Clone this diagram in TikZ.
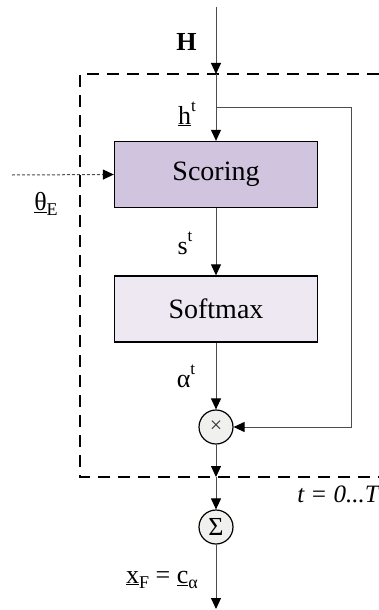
\documentclass[tikz,border=0pt]{standalone}
\usepackage{fontspec}
\setmainfont{Liberation Serif}
\usetikzlibrary{arrows.meta}

% small raised / lowered indices for the signal labels
\newcommand\supidx[1]{\raisebox{0.5em}{\fontsize{17}{17}\selectfont #1}}
\newcommand\subidx[1]{\raisebox{-0.22em}{\fontsize{18}{18}\selectfont #1}}

\definecolor{scorefill}{HTML}{D1C4DE}
\definecolor{softfill}{HTML}{EEE8F3}
\definecolor{opgray}{HTML}{F0F1EF}

\begin{document}
\begin{tikzpicture}[x=1pt,y=-1pt,
  conn/.style={draw=black!70, line width=1pt,
               -{Triangle[length=11pt,width=10pt,color=black,fill=black]}},
  box/.style={draw=black, line width=1.3pt, minimum width=203pt, minimum height=66pt,
              inner sep=0pt, font=\fontsize{28}{30}\selectfont},
  op/.style={circle, draw=black, line width=1.2pt, fill=opgray, minimum size=34pt, inner sep=0pt},
  lbl/.style={font=\fontsize{26}{28}\selectfont, inner sep=0pt},
  frame/.style={dash pattern=on 12pt off 8pt, line width=1.5pt}
]
\useasboundingbox (0,0) rectangle (379,610);

% iteration frame t = 0...T (open on the right)
\draw[frame] (379,74) -- (80,74) -- (80,477) -- (379,477);
\node[lbl, font=\fontsize{25}{27}\selectfont\itshape] (trange) at (338,494) {t = 0...T};

% signal path
\coordinate (top) at (216,7);
\coordinate (hin) at (216,74);
\coordinate (tap) at (216,107);
\coordinate (tapr) at (351,107);
\coordinate (thin) at (12,175);
\coordinate (out) at (216,477);
\coordinate (bottom) at (216,609);

\node[box, fill=scorefill] (scoring) at (216,174.5) {Scoring};
\node[box, fill=softfill] (softmax) at (216,309) {Softmax};
\node[op] (mult) at (216,427) {\fontsize{22}{22}\selectfont\color{black!80}×};
\node[op] (sum) at (216,527) {\fontsize{26}{26}\selectfont Σ};

\draw[conn] (top) -- (hin);
\draw[conn] (hin) -- (scoring.north);
\draw[conn] (tap) -- (tapr) |- (mult.east);
\draw[conn, densely dashed] (thin) -- (scoring.west);
\draw[conn] (scoring.south) -- (softmax.north);
\draw[conn] (softmax.south) -- (mult.north);
\draw[conn] (mult.south) -- (out);
\draw[conn] (out) -- (sum.north);
\draw[conn] (sum.south) -- (bottom);

% labels
\node[lbl] (hlabel) at (186.5,42) {\textbf{H}};
\node[lbl] (htlabel) at (187,114) {\underline{h}\supidx{t}};
\node[lbl] (thetalabel) at (46,204) {\underline{θ}\subidx{E}};
\node[lbl] (slabel) at (185,243) {s\supidx{t}};
\node[lbl] (alabel) at (186,376) {α\supidx{t}};
\node[lbl] (xlabel) at (162,580) {\underline{x}\subidx{F} = \underline{c}\subidx{α}};
\end{tikzpicture}
\end{document}
